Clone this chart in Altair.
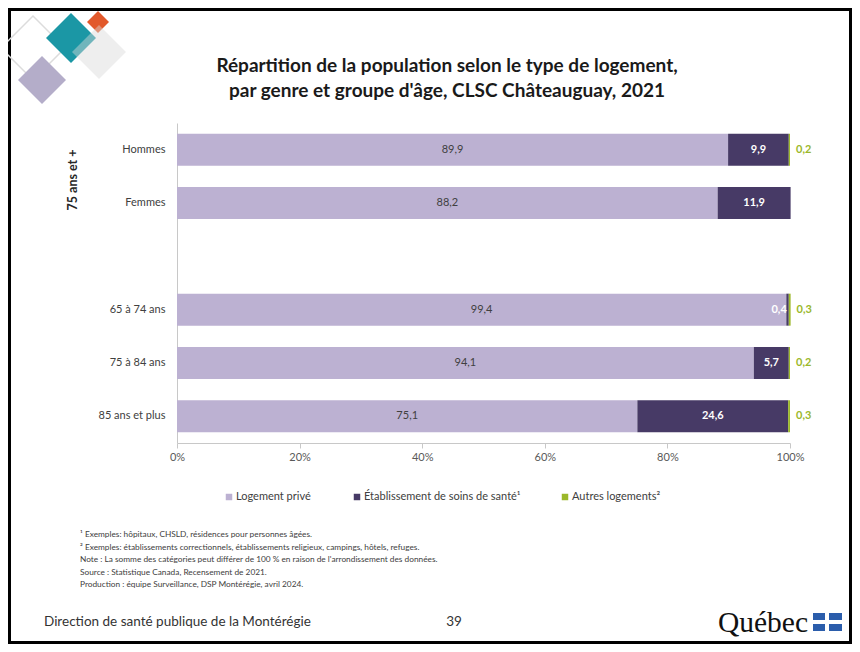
import altair as alt
import pandas as pd

# ---------------- data ----------------
categories = ["Hommes", "Femmes", "65 à 74 ans", "75 à 84 ans", "85 ans et plus"]
types = ["Logement privé", "Établissement de soins de santé¹", "Autres logements²"]
prive = [89.9, 88.2, 99.4, 94.1, 75.1]
soins = [9.9, 11.9, 0.4, 5.7, 24.6]
autres = [0.2, None, 0.3, 0.2, 0.3]
x_ticks = [0, 20, 40, 60, 80, 100]
group_label = "75 ans et +"
title_lines = ["Répartition de la population selon le type de logement,",
               "par genre et groupe d'âge, CLSC Châteauguay, 2021"]
notes = [
    "¹ Exemples: hôpitaux, CHSLD, résidences pour personnes âgées.",
    "² Exemples: établissements correctionnels, établissements religieux, campings, hôtels, refuges.",
    "Note : La somme des catégories peut différer de 100 % en raison de l'arrondissement des données.",
    "Source : Statistique Canada, Recensement de 2021.",
    "Production : équipe Surveillance, DSP Montérégie, avril 2024.",
]
footer_left = "Direction de santé publique de la Montérégie"
page_number = "39"
logo_text = "Québec"

# ---------------- styles ----------------
FONT = "Lato"
colors = ["#bcb1d2", "#473a66", "#9bb82a"]
W, H = 613, 320
PAD = {"left": 169, "top": 115, "right": 62, "bottom": 201}

rows = []
for i, c in enumerate(categories):
    for j, (t, vals) in enumerate(zip(types, [prive, soins, autres])):
        v = vals[i]
        if v is None:
            continue
        rows.append({"cat": c, "type": t, "value": v, "order": j})
df = pd.DataFrame(rows)

y_domain = categories[:2] + [" "] + categories[2:]

y_enc = alt.Y("cat:N", scale=alt.Scale(domain=y_domain, paddingInner=0.4, paddingOuter=0.2),
              axis=alt.Axis(title=None, ticks=False, domainColor="#c8c8c8", labelColor="#404040",
                            labelFontSize=11, labelFont=FONT, labelPadding=12))
x_scale = alt.Scale(domain=[0, 100], nice=False)

base = alt.Chart(df).transform_stack(
    stack="value", as_=["x0", "x1"], groupby=["cat"], sort=[alt.SortField("order")]
).transform_calculate(
    mid="(datum.x0 + datum.x1) / 2",
    label="replace(format(datum.value, '.1f'), '.', ',')",
)

bars = base.mark_bar().encode(
    x=alt.X("x0:Q", scale=x_scale,
            axis=alt.Axis(title=None, values=x_ticks, labelExpr="datum.value + '%'", grid=False,
                          domainColor="#c8c8c8", tickColor="#c8c8c8", tickSize=5,
                          labelColor="#595959", labelFontSize=11, labelFont=FONT,
                          labelPadding=3, labelFlush=False)),
    x2="x1:Q",
    y=y_enc,
    color=alt.Color("type:N", scale=alt.Scale(domain=types, range=colors), legend=None),
)

lab_prive = base.transform_filter(alt.datum.order == 0).mark_text(
    font=FONT, fontSize=11, color="#404040").encode(
    x=alt.X("mid:Q", scale=x_scale), y=alt.Y("cat:N", scale=alt.Scale(domain=y_domain)), text="label:N")

lab_soins = base.transform_filter((alt.datum.order == 1) & (alt.datum.value >= 1)).mark_text(
    font=FONT, fontSize=11, color="white", fontWeight="bold").encode(
    x=alt.X("mid:Q", scale=x_scale), y=alt.Y("cat:N", scale=alt.Scale(domain=y_domain)), text="label:N")

lab_soins_small = base.transform_filter((alt.datum.order == 1) & (alt.datum.value < 1)).mark_text(
    font=FONT, fontSize=11, color="white", fontWeight="bold", align="right", dx=-2).encode(
    x=alt.X("x1:Q", scale=x_scale), y=alt.Y("cat:N", scale=alt.Scale(domain=y_domain)), text="label:N")

lab_autres = base.transform_filter(alt.datum.order == 2).mark_text(
    font=FONT, fontSize=11, color=colors[2], fontWeight="bold", align="left", dx=6).encode(
    x=alt.X("x1:Q", scale=x_scale), y=alt.Y("cat:N", scale=alt.Scale(domain=y_domain)), text="label:N")

# ---------------- decorations ----------------
one = pd.DataFrame({"k": [0]})


def txt(text, x, y, **kw):
    return alt.Chart(one).mark_text(font=FONT, **kw).encode(
        x=alt.value(x), y=alt.value(y), text=alt.value(text))


def diamond(x, y, size, **kw):
    return alt.Chart(one).mark_point(shape="diamond", **kw).encode(
        x=alt.value(x), y=alt.value(y), size=alt.value(size))


def box(x, x2, y, y2, **kw):
    return alt.Chart(one).mark_rect(**kw).encode(
        x=alt.value(x), x2=alt.value(x2), y=alt.value(y), y2=alt.value(y2))


deco = [
    box(-167.5, 673.5, -113.5, 519.5, fillOpacity=0, stroke="black", strokeWidth=3),
    diamond(-144, -75, 4096, filled=False, stroke="#dcdcdc", strokeWidth=1.5, opacity=1),
    diamond(-135, -43, 2304, filled=True, color="#b4adc9", opacity=1),
    diamond(-106, -85, 2500, filled=True, color="#1b97a5", opacity=1),
    diamond(-79, -101, 484, filled=True, color="#e2592b", opacity=1),
    diamond(-78, -71, 2916, filled=True, color="#dadada", opacity=0.45),
]
for k, line in enumerate(title_lines):
    deco.append(txt(line, 270, -57 + 25 * k, fontSize=19, fontWeight="bold", color="#1a1a1a",
                    align="center", baseline="middle"))
deco.append(txt(group_label, -104, 57, fontSize=12.5, fontWeight="bold", color="#262626",
                angle=270, align="center", baseline="middle"))

legend_x = [52, 180, 388]
for t, c, lx in zip(types, colors, legend_x):
    deco.append(alt.Chart(one).mark_square(color=c, opacity=1).encode(
        x=alt.value(lx), y=alt.value(374), size=alt.value(42)))
    deco.append(txt(t, lx + 7, 374, fontSize=11, color="#404040", align="left", baseline="middle"))

for k, line in enumerate(notes):
    deco.append(txt(line, -97, 412 + 12.5 * k, fontSize=8.3, color="#404040", align="left",
                    baseline="middle"))

deco.append(txt(footer_left, -133, 499, fontSize=13.5, color="#333333", align="left", baseline="middle"))
deco.append(txt(page_number, 277, 499, fontSize=13.5, color="#333333", align="center", baseline="middle"))
deco.append(alt.Chart(one).mark_text(font="Liberation Serif", fontSize=29.5, color="#111111",
                                     align="right", baseline="alphabetic").encode(
    x=alt.value(631), y=alt.value(509), text=alt.value(logo_text)))
for fx in [(636, 648), (652, 665)]:
    for fy in [(490, 497), (501, 508)]:
        deco.append(box(fx[0], fx[1], fy[0], fy[1], color="#2b5dab"))

chart = alt.layer(
    *deco, bars, lab_prive, lab_soins, lab_soins_small, lab_autres
).properties(
    width=W, height=H, padding=PAD,
    autosize=alt.AutoSizeParams(type="none"),
    background="white",
).configure_view(stroke=None)

chart.save("out.html", embed_options={"renderer": "svg", "actions": False})
